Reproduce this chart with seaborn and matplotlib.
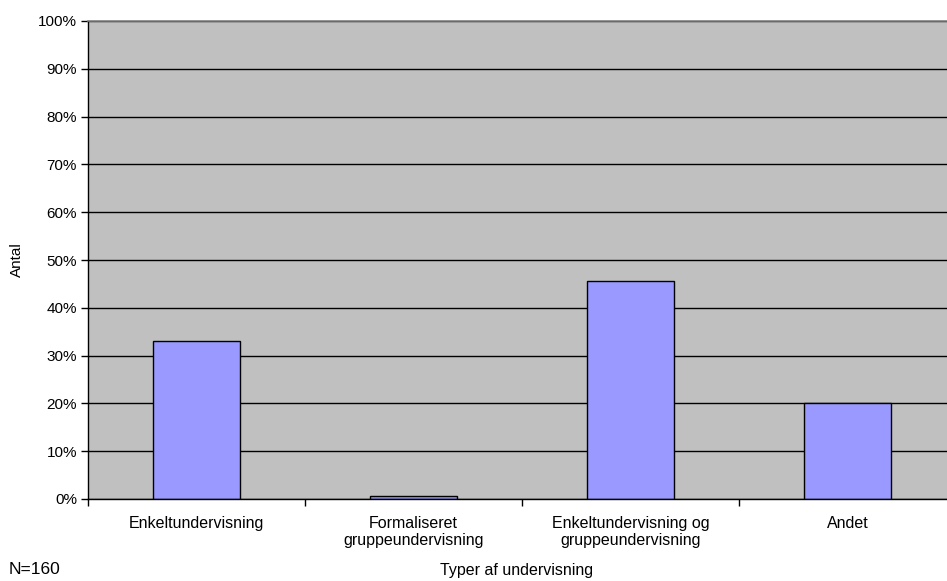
"""Søjlediagram: typer af undervisning (andel af N=160)."""

import matplotlib

matplotlib.use("Agg")
import matplotlib.pyplot as plt
import pandas as pd
import seaborn as sns
from matplotlib.ticker import FixedLocator, MultipleLocator, PercentFormatter

kategorier = [
    "Enkeltundervisning",
    "Formaliseret\ngruppeundervisning",
    "Enkeltundervisning og\ngruppeundervisning",
    "Andet",
]
andele = [33.1, 0.6, 45.6, 20.0]  # procent

sns.set_theme(style="white")
plt.rcParams["font.family"] = ["Liberation Sans", "DejaVu Sans"]
plt.rcParams["text.color"] = "black"
plt.rcParams["xtick.color"] = "black"
plt.rcParams["ytick.color"] = "black"
plt.rcParams["axes.labelcolor"] = "black"

df = pd.DataFrame({"type": kategorier, "andel": andele})

fig = plt.figure(figsize=(9.47, 5.81), dpi=100)
# plotområdet fortsætter lidt ud over højre kant, som i originalen
ax = fig.add_axes([88 / 947, 1 - 499 / 581, 868 / 947, (499 - 21) / 581])
ax.set_facecolor("#C0C0C0")

sns.barplot(data=df, x="type", y="andel", color="#9999FF", width=0.40,
            edgecolor="black", linewidth=1, saturation=1, ax=ax)

ax.set_ylim(0, 100)
ax.set_xlim(-0.5, 3.5)
ax.yaxis.set_major_locator(MultipleLocator(10))
ax.yaxis.set_major_formatter(PercentFormatter(decimals=0))
ax.grid(axis="y", color="black", linewidth=1)
ax.set_axisbelow(True)

# tick-mærker ved kategorigrænserne
ax.xaxis.set_minor_locator(FixedLocator([-0.5, 0.5, 1.5, 2.5, 3.5]))
ax.tick_params(axis="x", which="major", length=0, pad=12, labelsize=11.5)
ax.tick_params(axis="x", which="minor", length=5, width=1, color="black",
               direction="out", bottom=True)
ax.tick_params(axis="y", length=5, width=1, color="black", direction="out",
               left=True, labelsize=11, pad=3)

for side in ("left", "bottom"):
    ax.spines[side].set_color("black")
    ax.spines[side].set_linewidth(1)
ax.spines["top"].set_color("#808080")
ax.spines["top"].set_linewidth(1.2)
ax.spines["right"].set_visible(False)

ax.set_xlabel("")
ax.set_ylabel("Antal", fontsize=11, labelpad=10)
fig.text(517 / 947, 1 - 571 / 581, "Typer af undervisning",
         ha="center", va="center", fontsize=11.5)
fig.text(9 / 947, 1 - 570 / 581, "N=160", ha="left", va="center", fontsize=12.5)

fig.savefig("out.png", dpi=100)
plt.close(fig)
